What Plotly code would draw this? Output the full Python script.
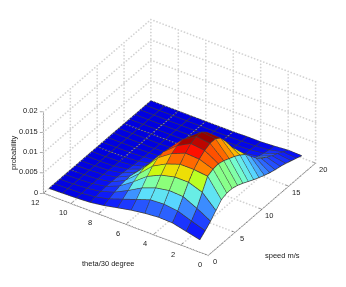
import numpy as np
import plotly.graph_objects as go

speed = list(range(1, 21))
theta = list(range(1, 13))
prob = [
 [.0014,.0025,.0037,.0052,.0067,.0072,.0072,.0068,.0062,.0055,.0048,.0042,.0036,.0031,.0027,.0024,.0020,.0015,.0010,.0005],
 [.0022,.0036,.0056,.0084,.0112,.0118,.0120,.0116,.0110,.0104,.0096,.0086,.0070,.0054,.0042,.0034,.0026,.0020,.0013,.0006],
 [.0030,.0048,.0072,.0096,.0116,.0130,.0140,.0146,.0146,.0136,.0116,.0092,.0068,.0044,.0028,.0018,.0012,.0008,.0005,.0003],
 [.0031,.0052,.0074,.0096,.0116,.0132,.0144,.0150,.0150,.0138,.0114,.0084,.0054,.0032,.0018,.0010,.0006,.0004,.0002,.0001],
 [.0028,.0050,.0068,.0088,.0104,.0118,.0126,.0130,.0124,.0108,.0086,.0060,.0036,.0020,.0010,.0005,.0003,.0002,.0001,.0001],
 [.0023,.0038,.0055,.0072,.0086,.0095,.0098,.0095,.0085,.0070,.0052,.0034,.0020,.0011,.0006,.0003,.0002,.0001,.0000,.0000],
 [.0016,.0026,.0036,.0046,.0054,.0058,.0058,.0054,.0046,.0034,.0023,.0013,.0007,.0004,.0002,.0001,.0000,.0000,.0000,.0000],
 [.0009,.0014,.0019,.0023,.0025,.0025,.0023,.0019,.0014,.0010,.0006,.0003,.0002,.0001,.0000,.0000,.0000,.0000,.0000,.0000],
 [.0004,.0006,.0008,.0009,.0009,.0009,.0008,.0006,.0004,.0003,.0002,.0001,.0000,.0000,.0000,.0000,.0000,.0000,.0000,.0000],
 [.0002,.0002,.0003,.0003,.0003,.0003,.0002,.0001,.0001,.0000,.0000,.0000,.0000,.0000,.0000,.0000,.0000,.0000,.0000,.0000],
 [.0001,.0001,.0001,.0001,.0001,.0001,.0000,.0000,.0000,.0000,.0000,.0000,.0000,.0000,.0000,.0000,.0000,.0000,.0000,.0000],
 [.0000,.0000,.0000,.0000,.0000,.0000,.0000,.0000,.0000,.0000,.0000,.0000,.0000,.0000,.0000,.0000,.0000,.0000,.0000,.0000],
]
speed_ticks = [0, 5, 10, 15, 20]
theta_ticks = [0, 2, 4, 6, 8, 10, 12]
prob_ticks = [0, 0.005, 0.01, 0.015, 0.02]
prob_tick_text = ["0", "0.005", "0.01", "0.015", "0.02"]

Z = np.array(prob)
nt, ns = Z.shape
S, T = np.meshgrid(speed, theta)
idx = lambda a, b: a * ns + b
I, J, K, C = [], [], [], []
for a in range(nt - 1):
    for b in range(ns - 1):
        I += [idx(a, b), idx(a, b)]
        J += [idx(a, b + 1), idx(a + 1, b + 1)]
        K += [idx(a + 1, b + 1), idx(a + 1, b)]
        C += [Z[a, b], Z[a, b]]

jet = [[0, "rgb(0,0,225)"], [0.08, "rgb(10,20,250)"], [0.16, "rgb(30,60,255)"], [0.24, "rgb(55,130,255)"],
       [0.33, "rgb(90,220,255)"], [0.43, "rgb(120,255,200)"], [0.5, "rgb(140,255,120)"], [0.58, "rgb(195,255,20)"],
       [0.68, "rgb(255,210,0)"], [0.78, "rgb(255,110,0)"], [0.88, "rgb(255,15,0)"], [1, "rgb(140,0,0)"]]

fig = go.Figure()
fig.add_trace(go.Mesh3d(x=S.ravel(), y=T.ravel(), z=Z.ravel(), i=I, j=J, k=K,
                        intensity=C, intensitymode="cell", colorscale=jet, cmin=0, cmax=0.0148,
                        showscale=False, flatshading=True,
                        lighting=dict(ambient=1, diffuse=0, specular=0, roughness=1, fresnel=0)))

def seg(pts):
    xs, ys, zs = [], [], []
    for p, q in pts:
        xs += [p[0], q[0], None]; ys += [p[1], q[1], None]; zs += [p[2], q[2], None]
    return xs, ys, zs

wx, wy, wz = [], [], []
lift = 0.00004
for a in range(nt):
    wx += list(S[a]) + [None]; wy += list(T[a]) + [None]; wz += list(Z[a] + lift) + [None]
for b in range(ns):
    wx += list(S[:, b]) + [None]; wy += list(T[:, b]) + [None]; wz += list(Z[:, b] + lift) + [None]
fig.add_trace(go.Scatter3d(x=wx, y=wy, z=wz, mode="lines", line=dict(color="#3d3d3d", width=1.5)))

xm, ym, zm = speed_ticks[-1], theta_ticks[-1], prob_ticks[-1]
grid = []
for s in speed_ticks:
    grid += [((s, 0, 0), (s, ym, 0)), ((s, ym, 0), (s, ym, zm))]
for t in theta_ticks:
    grid += [((0, t, 0), (xm, t, 0)), ((xm, t, 0), (xm, t, zm))]
for z in prob_ticks:
    grid += [((0, ym, z), (xm, ym, z)), ((xm, ym, z), (xm, 0, z))]
dx, dy, dz = [], [], []
for p, q in grid:
    p, q = np.array(p, float), np.array(q, float)
    d = q - p
    px_len = np.hypot((107 * d[0] / xm - 164 * d[1] / ym), (92 * d[0] / xm + 62 * d[1] / ym + 81 * d[2] / zm))
    n = int(px_len / 3.2)
    for f in np.linspace(0, 1, n + 1):
        v = p + f * d
        dx.append(v[0]); dy.append(v[1]); dz.append(v[2])
fig.add_trace(go.Scatter3d(x=dx, y=dy, z=dz, mode="markers",
                           marker=dict(color="#d2d2d2", size=1, line=dict(width=0))))

ax = [((0, 0, 0), (xm, 0, 0)), ((0, 0, 0), (0, ym, 0))]
for s in speed_ticks:
    ax.append(((s, 0, 0), (s, 0.25, 0)))
for t in theta_ticks:
    ax.append(((0, t, 0), (0.6, t, 0)))
ax2 = [((0, ym, 0), (0, ym, zm))]
for z in prob_ticks:
    ax.append(((0, ym, z), (-0.2, ym + 0.18, z)))
ax_x, ax_y, ax_z = seg(ax)
fig.add_trace(go.Scatter3d(x=ax_x, y=ax_y, z=ax_z, mode="lines", line=dict(color="#555555", width=1)))
ax_x, ax_y, ax_z = seg(ax2)
fig.add_trace(go.Scatter3d(x=ax_x, y=ax_y, z=ax_z, mode="lines", line=dict(color="#aaaaaa", width=2)))

font = dict(family="Liberation Sans", size=7.5, color="#222222")
ann = []
for s in speed_ticks:
    ann.append(dict(x=s, y=0, z=0, text=str(s), showarrow=False, xshift=7, yshift=-6, font=font))
for t in theta_ticks:
    ann.append(dict(x=0, y=t, z=0, text=str(t), showarrow=False, xshift=-8, yshift=-9, font=font))
for z, txt in zip(prob_ticks, prob_tick_text):
    ann.append(dict(x=0, y=ym, z=z, text=txt, showarrow=False, xanchor="right", xshift=-3, yshift=1, font=font))

R = 1.43
F = 1.355
c = (-0.0451, 0.0247, -0.0345)
fig.update_layout(
    width=346, height=287, margin=dict(l=0, r=0, t=0, b=0),
    paper_bgcolor="white", showlegend=False,
    scene=dict(
        domain=dict(x=[0, 1], y=[0, 1]),
        xaxis=dict(visible=False, range=[-1, 21]),
        yaxis=dict(visible=False, range=[-1, 13]),
        zaxis=dict(visible=False, range=[-0.001, 0.021]),
        aspectmode="manual",
        aspectratio=dict(x=F * 22 / 20, y=F * 1.0163 * 14 / 12, z=F * 0.509 * 22 / 20),
        camera=dict(projection=dict(type="orthographic"), up=dict(x=0, y=0, z=1),
                    center=dict(x=c[0], y=c[1], z=c[2]),
                    eye=dict(x=-0.685 * R + c[0], y=-0.454 * R + c[1], z=0.570 * R + c[2])),
        annotations=ann,
    ),
)
W, H = 346, 287
fig.layout.annotations = [
    dict(text="theta/30 degree", x=108 / W, y=1 - 263 / H, xref="paper", yref="paper", xanchor="center", yanchor="middle", showarrow=False, font=font),
    dict(text="speed m/s", x=282 / W, y=1 - 255 / H, xref="paper", yref="paper", xanchor="center", yanchor="middle", showarrow=False, font=font),
    dict(text="probability", x=14 / W, y=1 - 153 / H, xref="paper", yref="paper", xanchor="center", yanchor="middle", showarrow=False, textangle=-90, font=font),
]
fig.write_html("out.html", config=dict(displayModeBar=False),
               post_script="document.body.style.margin='0';")
